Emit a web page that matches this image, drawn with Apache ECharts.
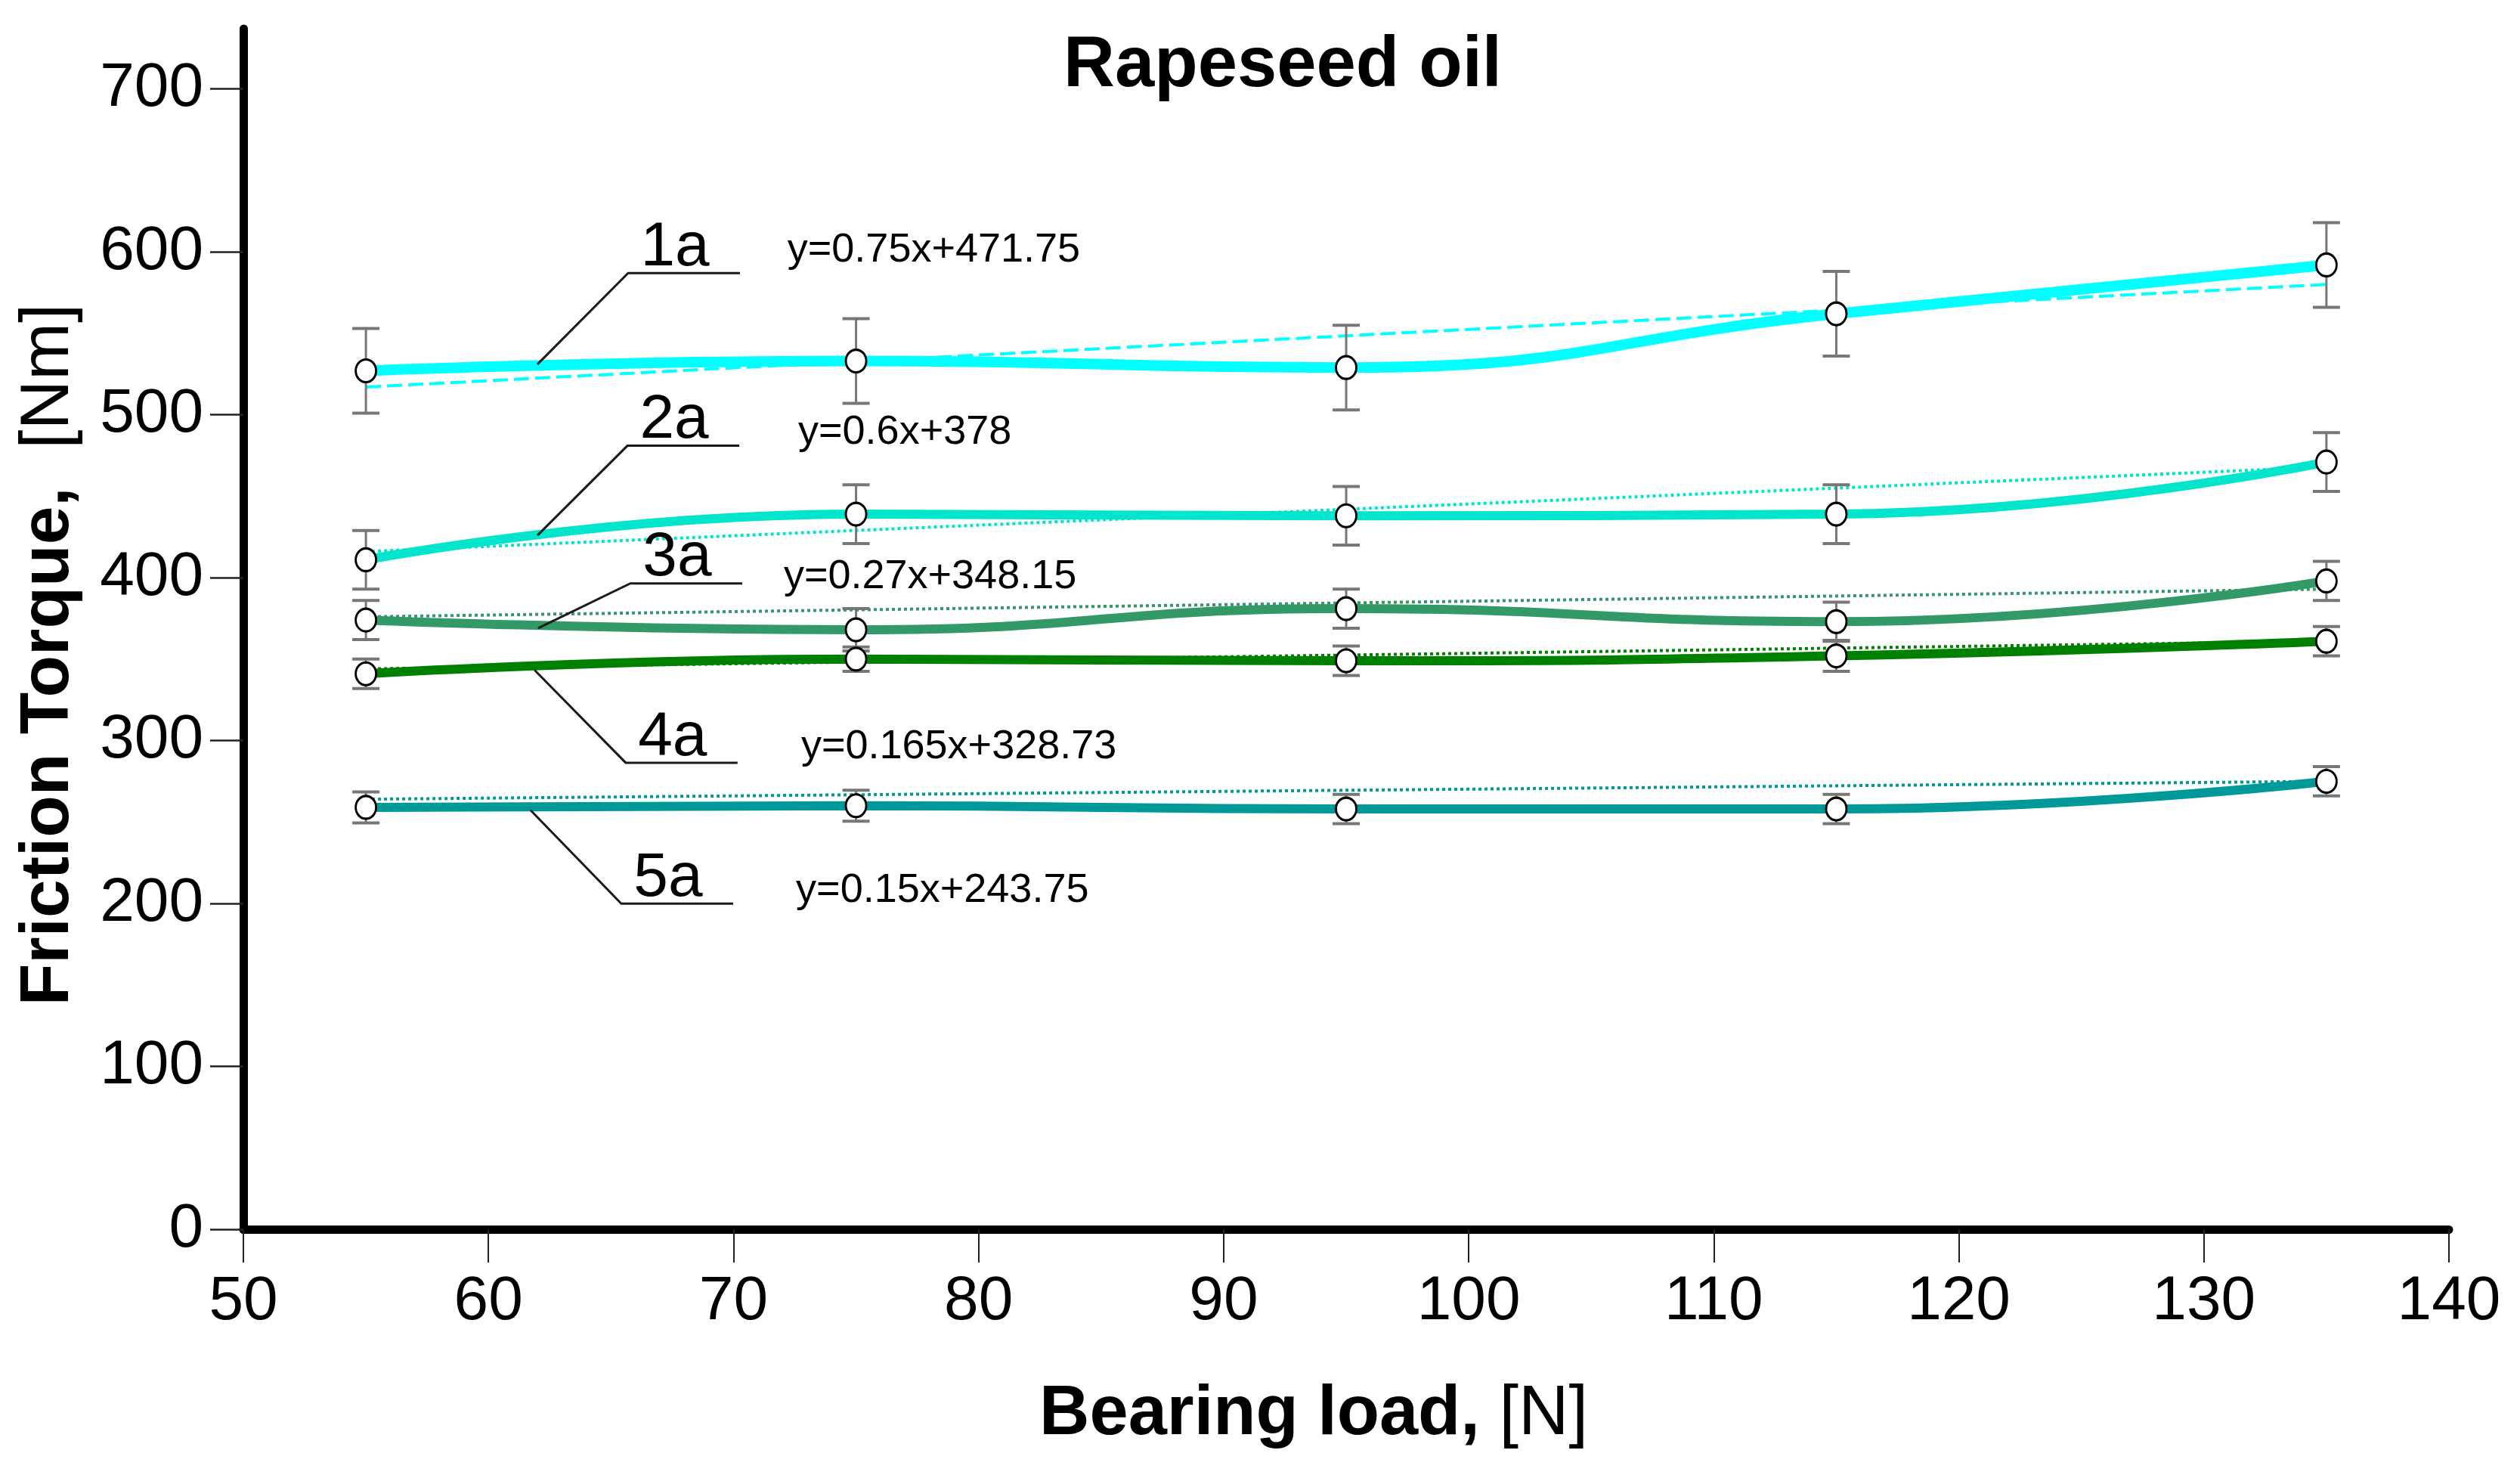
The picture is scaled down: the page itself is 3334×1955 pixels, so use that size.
<!DOCTYPE html>
<html><head><meta charset="utf-8">
<script src="https://cdn.jsdelivr.net/npm/echarts@6/dist/echarts.min.js"></script>
<style>html,body{margin:0;padding:0;background:#fff}#c{width:3334px;height:1955px}</style>
</head><body><div id="c"></div>
<script>
// ---- data ----
const loads = [55, 75, 95, 115, 135];
const seriesNames = ['1a', '2a', '3a', '4a', '5a'];
const torque1a = [527, 533, 529, 562, 592];
const torque2a = [411, 439, 438, 439, 471];
const torque3a = [374, 368, 381, 373, 398];
const torque4a = [341, 350, 349, 352, 361];
const torque5a = [259, 260, 258, 258, 275];
const err1a = [26, 26, 26, 26, 26];
const err2a = [18, 18, 18, 18, 18];
const err3a = [12, 13, 12, 12, 12];
const err4a = [9, 7.5, 9, 9.5, 9];
const err5a = [9.5, 9.5, 9, 9, 9];
const trendX = [55, 135];
const trend1a = [517, 580];
const trend2a = [416, 468];
const trend3a = [376, 393];
const trend4a = [344, 361];
const trend5a = [264, 275];
const equations = ['y=0.75x+471.75', 'y=0.6x+378', 'y=0.27x+348.15', 'y=0.165x+328.73', 'y=0.15x+243.75'];
const xTicks = [50, 60, 70, 80, 90, 100, 110, 120, 130, 140];
const yTicks = [0, 100, 200, 300, 400, 500, 600, 700];

// ---- styling / layout ----
const FONT = '"Liberation Sans", Arial, Helvetica, sans-serif';
const colors = ['#00FFFF', '#00E5CC', '#339966', '#008000', '#009999'];
const lineWidths = [14, 12, 12, 12, 12];
const trendTypes = [[20, 8], [4, 4], [4, 4], [4, 4], [4, 4]];
const torques = [torque1a, torque2a, torque3a, torque4a, torque5a];
const errs = [err1a, err2a, err3a, err4a, err5a];
const trends = [trend1a, trend2a, trend3a, trend4a, trend5a];
// annotation layout in data coordinates: leader anchor, underline start, equation anchor
const annoLayout = [
  { anchor: [62.0, 531], line: [65.7, 587], eq: [72.2, 601] },
  { anchor: [62.0, 426], line: [65.67, 481], eq: [72.64, 489] },
  { anchor: [62.03, 369], line: [65.79, 396.5], eq: [72.05, 400.6] },
  { anchor: [61.88, 343.3], line: [65.6, 286.4], eq: [72.76, 296.2] },
  { anchor: [61.72, 257.2], line: [65.42, 199.9], eq: [72.55, 208] }
];

const series = [];
torques.forEach((t, k) => {
  series.push({
    type: 'line', name: seriesNames[k], z: 2, silent: true,
    data: loads.map((x, i) => [x, t[i]]),
    smooth: 0.5, showSymbol: false, symbol: 'none',
    lineStyle: { width: lineWidths[k], color: colors[k] }
  });
});
trends.forEach((t, k) => {
  series.push({
    type: 'line', name: seriesNames[k] + ' trend', z: 3, silent: true,
    data: trendX.map((x, i) => [x, t[i]]),
    symbol: 'none',
    lineStyle: { width: 4, color: colors[k], type: trendTypes[k] }
  });
});
torques.forEach((t, k) => {
  series.push({
    type: 'custom', name: seriesNames[k] + ' err', z: 4, silent: true,
    data: loads.map((x, i) => [x, t[i] - errs[k][i], t[i] + errs[k][i]]),
    encode: { x: 0, y: [1, 2] },
    renderItem: function (params, api) {
      const x = api.value(0);
      const lo = api.coord([x, api.value(1)]);
      const hi = api.coord([x, api.value(2)]);
      const hw = 18;
      return {
        type: 'group', children: [
          { type: 'line', shape: { x1: lo[0], y1: lo[1], x2: hi[0], y2: hi[1] }, style: { stroke: '#777777', lineWidth: 3 } },
          { type: 'line', shape: { x1: lo[0] - hw, y1: lo[1], x2: lo[0] + hw, y2: lo[1] }, style: { stroke: '#777777', lineWidth: 4 } },
          { type: 'line', shape: { x1: hi[0] - hw, y1: hi[1], x2: hi[0] + hw, y2: hi[1] }, style: { stroke: '#777777', lineWidth: 4 } }
        ]
      };
    }
  });
});
torques.forEach((t, k) => {
  series.push({
    type: 'scatter', name: seriesNames[k] + ' pts', z: 5, silent: true,
    data: loads.map((x, i) => [x, t[i]]),
    symbol: 'circle', symbolSize: [27, 30],
    itemStyle: { color: '#ffffff', borderColor: '#000000', borderWidth: 3, opacity: 1 }
  });
});
series.push({
  type: 'custom', name: 'annotations', z: 6, silent: true,
  data: seriesNames.map((n, i) => [annoLayout[i].anchor[0], annoLayout[i].anchor[1], i]),
  encode: { x: 0, y: 1 },
  renderItem: function (params, api) {
    const i = params.dataIndex;
    const L = annoLayout[i];
    const a = api.coord(L.anchor);
    const u = api.coord(L.line);
    const e = api.coord(L.eq);
    return {
      type: 'group', children: [
        { type: 'polyline', shape: { points: [a, u, [u[0] + 148, u[1]]] }, style: { stroke: '#1a1a1a', lineWidth: 3, fill: null } },
        { type: 'text', style: { text: seriesNames[i], x: u[0] + 62, y: u[1] - 33, align: 'center', verticalAlign: 'middle', font: '82px ' + FONT, fill: '#000' } },
        { type: 'text', style: { text: equations[i], x: e[0], y: e[1], align: 'left', verticalAlign: 'middle', font: '54px ' + FONT, fill: '#000' } }
      ]
    };
  }
});

const chart = echarts.init(document.getElementById('c'), null, { renderer: 'canvas' });
chart.setOption({
  animation: false,
  backgroundColor: '#ffffff',
  grid: { left: 322, right: 94, top: 38, bottom: 329, containLabel: false, outerBoundsMode: 'none' },
  xAxis: {
    type: 'value', min: 50, max: 140, interval: 10,
    axisLine: { show: true, onZero: false, lineStyle: { color: '#000', width: 11 } },
    axisTick: { show: true, inside: false, length: 44, lineStyle: { color: '#222', width: 2 } },
    axisLabel: { show: true, margin: 55, fontSize: 82, color: '#000', fontFamily: FONT, customValues: xTicks },
    splitLine: { show: false }
  },
  yAxis: {
    type: 'value', min: 0, max: 737, interval: 100,
    axisLine: { show: true, onZero: false, lineStyle: { color: '#000', width: 11 } },
    axisTick: { show: true, inside: false, length: 44, lineStyle: { color: '#222', width: 2.5 }, customValues: yTicks },
    axisLabel: { show: true, margin: 53, fontSize: 82, color: '#000', fontFamily: FONT, customValues: yTicks,
      formatter: v => (v % 100 === 0 ? String(v) : '') },
    splitLine: { show: false }
  },
  graphic: [
    { type: 'text', x: 1697, y: 88, style: { text: 'Rapeseed oil', align: 'center', verticalAlign: 'middle', fontSize: 94, fontWeight: 'bold', fontFamily: FONT, fill: '#000' } },
    { type: 'text', x: 1738, y: 1872, style: { text: '{b|Bearing load,}{n| [N]}', align: 'center', verticalAlign: 'middle',
      rich: { b: { fontSize: 92, fontWeight: 'bold', fontFamily: FONT, fill: '#000' }, n: { fontSize: 92, fontWeight: 'normal', fontFamily: FONT, fill: '#000' } } } },
    { type: 'text', x: 65, y: 866, rotation: Math.PI / 2, style: { text: '{b|Friction Torque,}{n|  [Nm]}', align: 'center', verticalAlign: 'middle',
      rich: { b: { fontSize: 91, fontWeight: 'bold', fontFamily: FONT, fill: '#000' }, n: { fontSize: 91, fontWeight: 'normal', fontFamily: FONT, fill: '#000' } } } }
  ],
  series: series
});
</script></body></html>
